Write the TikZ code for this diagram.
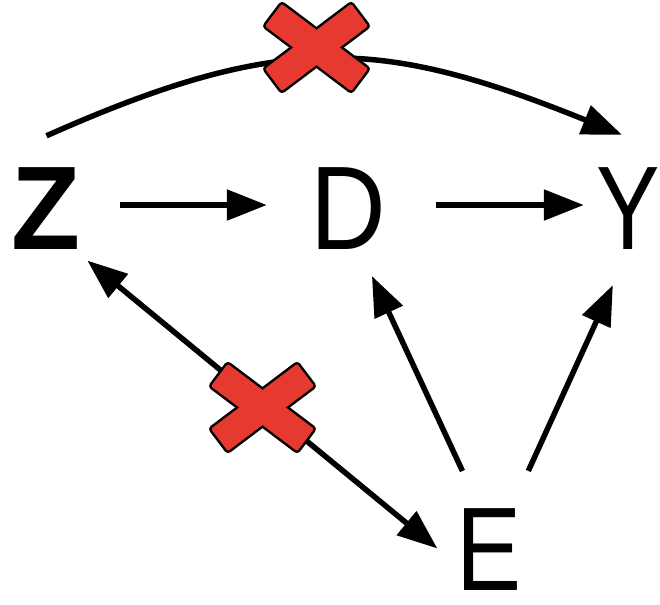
\documentclass[tikz,border=0pt]{standalone}
\usepackage{fontspec}
\setmainfont{Liberation Sans}
\usepackage{graphicx}
\usetikzlibrary{arrows.meta}
\definecolor{crossred}{RGB}{230,57,47}
\newcommand\dagletter[2]{\makebox[56pt]{\scalebox{#1}[1]{#2}}}
\tikzset{
  var/.style={inner sep=0pt, text height=85pt, text depth=0pt, font=\fontsize{119pt}{119pt}\selectfont},
  cause/.style={draw, line width=5.5pt, -{Triangle[length=40pt, width=30pt]}},
  both/.style={cause, {Triangle[length=40pt, width=30pt]}-{Triangle[length=40pt, width=30pt]}}
}

\begin{document}
\begin{tikzpicture}[x=1pt, y=1pt]
\useasboundingbox (0,0) rectangle (660,604);
\node[var] (Z) at (46.5,396.5) {\bfseries\dagletter{0.95}{Z}};
\node[var] (D) at (348.5,396.5) {\dagletter{0.88}{D}};
\node[var] (Y) at (628,396.5) {\dagletter{0.8}{Y}};
\node[var] (E) at (489,56) {\dagletter{0.82}{E}};
\coordinate (zt) at ([yshift=29pt]Z.north);
\coordinate (yt) at ([shift={(-6pt,30pt)}]Y.north);
\coordinate (cut1) at (316.5,556.5);
\coordinate (cut2) at (262.5,196.5);
\draw[cause, shorten <=45.5pt, shorten >=53.5pt] (Z.5) -- (D.175);
\draw[cause, shorten <=59.5pt, shorten >=16pt] (D.5) -- (Y.175);
\draw[cause] (zt) to[out=24, in=158, looseness=1.15] (yt);
\draw[both, shorten <=16.4pt, shorten >=30.3pt] (Z.south east) -- (E.215);
\draw[cause, shorten <=37.8pt, shorten >=28.5pt] (E.104) -- (D.285);
\draw[cause, shorten <=37.8pt, shorten >=38.4pt] (E.61) -- (Y.271);
\foreach \c in {cut1,cut2}{
  \begin{scope}[shift={(\c)}]
    \foreach \a in {37,-37}
      \draw[line width=5pt, rounded corners=2pt, rotate=\a] (-54,-14) rectangle (54,14);
    \foreach \a in {37,-37}
      \fill[crossred, rounded corners=2pt, rotate=\a] (-54,-14) rectangle (54,14);
  \end{scope}
}
\end{tikzpicture}
\end{document}
